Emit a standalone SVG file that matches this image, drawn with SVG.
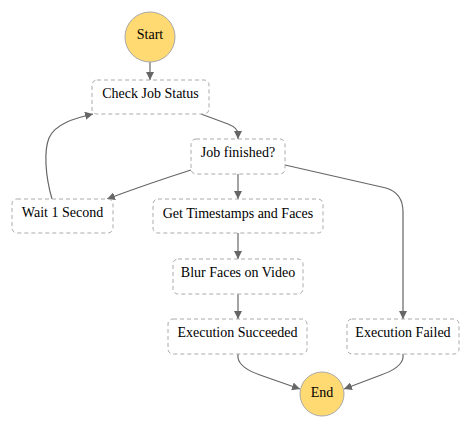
<svg xmlns="http://www.w3.org/2000/svg" width="472" height="431" viewBox="0 0 472 431">
<defs>
<marker id="arr" viewBox="0 0 10 10" refX="10" refY="5" markerWidth="8" markerHeight="8" markerUnits="userSpaceOnUse" orient="auto">
<path d="M0,0 L10,5 L0,10 z" fill="#666"/>
</marker>
<style>
.box{fill:#fff;stroke:#aaa;stroke-width:1;stroke-dasharray:4,3}
.term{fill:#ffd971;stroke:#a8a8a8;stroke-width:1}
.lbl{font-family:'Liberation Serif','DejaVu Serif',serif;font-size:14px;fill:#000;text-anchor:middle}
.edge{fill:none;stroke:#666;stroke-width:1.2;marker-end:url(#arr)}
</style>
</defs>
<rect width="472" height="431" fill="#fff"/>
<g id="edges">
<path class="edge" d="M150,62 L150,80"/>
<path class="edge" d="M201,114 L228,124 Q238,128 238,134 L238,139"/>
<path class="edge" d="M191,170 Q150,183 107,199"/>
<path class="edge" d="M52,199 C45,175 44,150 49,138 C55,124 75,118 93,114"/>
<path class="edge" d="M238,174 L238,199"/>
<path class="edge" d="M285,165 L386,188 Q403,193 403,212 L403,319"/>
<path class="edge" d="M238,233 L238,259"/>
<path class="edge" d="M238,294 L238,319"/>
<path class="edge" d="M238,354 L238,358 Q240,368 260,375 L300,389"/>
<path class="edge" d="M403,354 L403,358 Q401,368 381,375 L344,389"/>
</g>
<g id="start"><circle class="term" cx="150" cy="37" r="25"/><text class="lbl" x="150" y="39">Start</text></g>
<g id="check"><rect class="box" x="92" y="80" width="117" height="34" rx="5"/><text class="lbl" x="150.5" y="97.5">Check Job Status</text></g>
<g id="jobfinished"><rect class="box" x="191" y="139" width="94" height="35" rx="5"/><text class="lbl" x="238" y="157">Job finished?</text></g>
<g id="wait"><rect class="box" x="12" y="199" width="101" height="34" rx="5"/><text class="lbl" x="62.5" y="217">Wait 1 Second</text></g>
<g id="gettimestamps"><rect class="box" x="153" y="199" width="170" height="34" rx="5"/><text class="lbl" x="238" y="217.5">Get Timestamps and Faces</text></g>
<g id="blur"><rect class="box" x="173" y="259" width="130" height="35" rx="5"/><text class="lbl" x="238" y="277">Blur Faces on Video</text></g>
<g id="succeeded"><rect class="box" x="168" y="319" width="139" height="35" rx="5"/><text class="lbl" x="237.5" y="337">Execution Succeeded</text></g>
<g id="failed"><rect class="box" x="347" y="319" width="112" height="35" rx="5"/><text class="lbl" x="403" y="337">Execution Failed</text></g>
<g id="end"><circle class="term" cx="322" cy="394" r="22"/><text class="lbl" x="322" y="397">End</text></g>
</svg>
